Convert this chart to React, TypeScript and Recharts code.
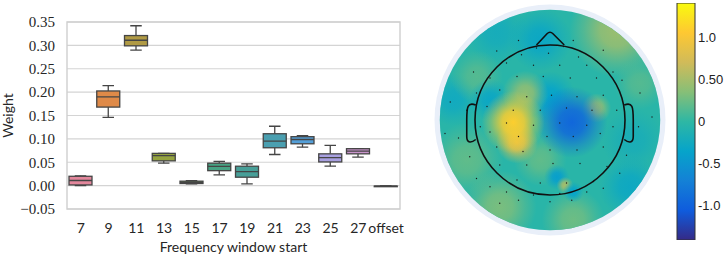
import React from "react";
import {
  ComposedChart, Bar, XAxis, YAxis, CartesianGrid, ReferenceArea,
  ScatterChart, Scatter,
} from "recharts";

// ---- box plot data (weight per frequency window) ----
const windows = ["7", "9", "11", "13", "15", "17", "19", "21", "23", "25", "27", "offset"];
const whiskerLow = [0.0, 0.146, 0.290, 0.048, 0.0036, 0.023, 0.0036, 0.0666, 0.0823, 0.0415, 0.061, -0.0017];
const quartile1 = [0.0015, 0.168, 0.299, 0.053, 0.0045, 0.032, 0.018, 0.081, 0.0895, 0.0507, 0.068, -0.0014];
const medians = [0.011, 0.190, 0.311, 0.064, 0.007, 0.041, 0.030, 0.095, 0.0987, 0.060, 0.0737, -0.0012];
const quartile3 = [0.020, 0.2025, 0.321, 0.069, 0.0095, 0.048, 0.0415, 0.111, 0.1047, 0.068, 0.079, -0.001];
const whiskerHigh = [0.021, 0.214, 0.342, 0.069, 0.0107, 0.052, 0.0466, 0.127, 0.107, 0.086, 0.079, -0.0007];
const boxColors = ["#e3879c", "#df8a48", "#b09a44", "#95a340", "#5aa244", "#47a283", "#489f98", "#4a9fb0", "#549fd8", "#a8a0e0", "#c994cc", "#e07fbd"];
const yTicks = [-0.05, 0, 0.05, 0.1, 0.15, 0.2, 0.25, 0.3, 0.35];

// ---- topomap data (head units, head radius = 1) ----
const blobX = [0.89, -0.71, -0.13, -1.29, -1.11, -0.67, 0.31, 1.07, 1.11, 1.2, -0.98, -0.13, 0.0, -0.8, -0.33, 0.62, 0.29, -0.44, -0.49, 0.09, 0.2, 0.31];
const blobY = [1.2, 1.16, 1.07, 0.27, -0.53, -1.16, -1.33, -0.89, -0.27, 0.49, 0.58, -0.53, 0.3, 0.27, 0.35, 0.16, -0.03, -0.3, -0.03, -0.76, -0.87, -0.96];
const blobValue = [0.45, -0.2, -0.3, -0.25, 0.2, 0.3, 0.25, -0.28, -0.18, 0.15, 0.15, 0.2, -0.35, -0.3, 0.4, 0.45, -0.95, 0.85, 1.1, -0.4, 0.5, -0.35];
const blobRadius = [0.45, 0.3, 0.3, 0.25, 0.35, 0.35, 0.3, 0.3, 0.3, 0.25, 0.25, 0.25, 0.25, 0.2, 0.22, 0.14, 0.34, 0.2, 0.3, 0.12, 0.08, 0.1];

const electrodeX = [-0.42, 0.31, -0.71, -0.18, 0.18, 0.71, -0.38, -0.02, 0.38, -1.02, -0.58, -0.22, 0.13, 0.49, 0.84, -0.8, -0.44, -0.09, 0.27, 0.62, 0.96, -1.33, -0.98, -0.67, -0.31, 0.02, 0.36, 0.71, 1.2, -1.11, -0.84, -0.49, -0.13, 0.22, 0.56, 0.89, -1.4, -0.93, -0.58, -0.22, 0.13, 0.49, 0.84, 1.36, -1.22, -0.8, -0.42, -0.04, 0.31, 0.67, 1.18, -1.07, -0.71, -0.36, 0.0, 0.36, 0.71, 1.02, -0.98, -0.67, -0.31, 0.04, 0.4, 0.76, 0.93, -0.8, -0.44, -0.13, 0.22, 0.58, -0.58, -0.22, 0.13, 0.49, 0.71, -0.42, 0.0, 0.29, -0.67];
const electrodeY = [1.06, 1.06, 0.92, 0.96, 0.98, 0.93, 0.87, 0.89, 0.84, 0.64, 0.76, 0.73, 0.73, 0.73, 0.64, 0.56, 0.58, 0.58, 0.56, 0.56, 0.53, 0.24, 0.36, 0.4, 0.31, 0.33, 0.31, 0.33, 0.36, 0.13, 0.18, 0.13, 0.13, 0.16, 0.13, 0.13, -0.18, -0.09, -0.04, -0.07, -0.04, -0.07, -0.09, 0.04, -0.24, -0.16, -0.22, -0.22, -0.22, -0.18, -0.09, -0.49, -0.36, -0.42, -0.4, -0.4, -0.36, -0.47, -0.78, -0.6, -0.6, -0.58, -0.58, -0.62, -0.71, -0.89, -0.8, -0.84, -0.84, -0.82, -0.96, -1.0, -0.98, -0.96, -0.91, -1.07, -1.09, -1.07, -1.11];

const cbTicks = [1.0, 0.5, 0, -0.5, -1.0];
const cbTickLabels = ["1.0", "0.50", "0", "-0.5", "-1.0"];

// parula colormap anchors
const PARULA = ["#352a87", "#0f5cdd", "#1481d6", "#06a4ca", "#2eb7a4", "#87bf77", "#d1bb59", "#fec832", "#f9fb0e"];
const CB_MIN = -1.41;
const CB_MAX = 1.41;

const LINE = "#454545";
const MAP_SIZE = 240;
const MAP_EXTENT = 1.6;
const K = MAP_SIZE / (2 * MAP_EXTENT);

function hexToRgb(h: string) {
  return [1, 3, 5].map((i) => parseInt(h.slice(i, i + 2), 16));
}

function parula(v: number) {
  const t = Math.max(0, Math.min(1, (v - CB_MIN) / (CB_MAX - CB_MIN))) * (PARULA.length - 1);
  const i = Math.min(Math.floor(t), PARULA.length - 2);
  const f = t - i;
  const a = hexToRgb(PARULA[i]);
  const b = hexToRgb(PARULA[i + 1]);
  const c = a.map((av, k) => Math.round(av + (b[k] - av) * f));
  return `rgb(${c[0]},${c[1]},${c[2]})`;
}

const rows = windows.map((name, i) => ({
  name,
  range: [whiskerLow[i], whiskerHigh[i]],
  lo: whiskerLow[i], q1: quartile1[i], med: medians[i], q3: quartile3[i], hi: whiskerHigh[i],
  color: boxColors[i],
}));

const blobs = blobX.map((x, i) => ({ x, y: blobY[i], v: blobValue[i], r: blobRadius[i], id: i }));
const electrodes = electrodeX.map((x, i) => ({ x, y: electrodeY[i] }));
const centre = [{ x: 0, y: 0 }];
const colorbar = [{ name: "cb", range: [CB_MIN, CB_MAX] }];

function BoxShape(props: any) {
  const { x, y, width, height, payload } = props;
  const top = Math.min(y, y + height);
  const h = Math.abs(height);
  const { lo, q1, med, q3, hi, color } = payload;
  const ppu = h / (hi - lo);
  const py = (v: number) => top + (hi - v) * ppu;
  const cx = x + width / 2;
  const cap = width / 4;
  return (
    <g stroke={LINE} strokeWidth={1.3} fill="none">
      <line x1={cx} x2={cx} y1={py(hi)} y2={py(q3)} />
      <line x1={cx} x2={cx} y1={py(q1)} y2={py(lo)} />
      <line x1={cx - cap} x2={cx + cap} y1={py(hi)} y2={py(hi)} />
      <line x1={cx - cap} x2={cx + cap} y1={py(lo)} y2={py(lo)} />
      <rect x={x} y={py(q3)} width={width} height={Math.max(py(q1) - py(q3), 0.6)} fill={color} />
      <line x1={x} x2={x + width} y1={py(med)} y2={py(med)} />
    </g>
  );
}

function ScalpShape(props: any) {
  const { cx, cy } = props;
  return (
    <g>
      <defs>
        <clipPath id="scalpClip">
          <circle cx={cx} cy={cy} r={1.47 * K} />
        </clipPath>
      </defs>
      <circle cx={cx} cy={cy} r={1.54 * K} fill="#e9eff9" />
      <circle cx={cx} cy={cy} r={1.47 * K} fill={parula(-0.04)} />
    </g>
  );
}

function BlobShape(props: any) {
  const { cx, cy, payload } = props;
  const id = `blob${payload.id}`;
  const col = parula(payload.v);
  return (
    <g clipPath="url(#scalpClip)">
      <defs>
        <radialGradient id={id}>
          <stop offset="0%" stopColor={col} stopOpacity={1} />
          <stop offset="35%" stopColor={col} stopOpacity={0.85} />
          <stop offset="70%" stopColor={col} stopOpacity={0.35} />
          <stop offset="100%" stopColor={col} stopOpacity={0} />
        </radialGradient>
      </defs>
      <circle cx={cx} cy={cy} r={payload.r * K * 1.4} fill={`url(#${id})`} />
    </g>
  );
}

function ElectrodeShape(props: any) {
  return <circle cx={props.cx} cy={props.cy} r={0.7} fill="#1a1a1a" />;
}

function HeadShape(props: any) {
  const { cx, cy } = props;
  const p = (u: number, v: number) => `${cx + u * K},${cy - v * K}`;
  return (
    <g stroke="#111" strokeWidth={1.6} fill="none">
      <circle cx={cx} cy={cy} r={K} />
      <path d={`M${p(-0.18, 1.0)} L${p(-0.04, 1.15)} Q${p(0, 1.19)} ${p(0.04, 1.15)} L${p(0.19, 1.0)}`} />
      <path d={`M${p(-0.99, 0.2)} C${p(-1.1, 0.24)} ${p(-1.11, 0.18)} ${p(-1.11, 0.0)} L${p(-1.11, -0.22)} C${p(-1.11, -0.32)} ${p(-1.04, -0.3)} ${p(-0.99, -0.26)}`} />
      <path d={`M${p(0.99, 0.2)} C${p(1.1, 0.24)} ${p(1.11, 0.18)} ${p(1.11, 0.0)} L${p(1.11, -0.22)} C${p(1.11, -0.32)} ${p(1.04, -0.3)} ${p(0.99, -0.26)}`} />
    </g>
  );
}

const fmtWeight = (v: number) => (v < 0 ? "\u2212" : "") + Math.abs(v).toFixed(2);

export default function App() {
  return (
    <div style={{ position: "relative", width: 725, height: 259, background: "#fff", overflow: "hidden" }}>
      <style>{"body{margin:0}"}</style>
      <div style={{ position: "absolute", left: 0, top: 0 }}>
        <ComposedChart width={410} height={259} data={rows} margin={{ top: 22, right: 10, bottom: 0, left: 0 }}>
          <CartesianGrid vertical={false} stroke="#d4d4d4" strokeWidth={1.2} />
          <ReferenceArea y1={-0.05} y2={0.35} fill="none" stroke="#cfcfcf" strokeWidth={1.4} ifOverflow="visible" />
          <XAxis
            dataKey="name"
            interval={0}
            axisLine={false}
            tickLine={false}
            tickSize={0}
            tickMargin={14}
            height={50}
            tick={{ fontFamily: "Lato", fontSize: 14, fill: "#262626" }}
            label={{ value: "Frequency window start", position: "insideBottom", offset: 7, style: { fontFamily: "Lato", fontSize: 14, fill: "#262626" } }}
          />
          <YAxis
            type="number"
            domain={[-0.05, 0.35]}
            ticks={yTicks}
            allowDataOverflow
            width={67}
            axisLine={false}
            tickLine={false}
            tickSize={0}
            tickMargin={12}
            tickFormatter={fmtWeight}
            tick={{ fontFamily: "Liberation Serif", fontSize: 15, fill: "#262626" }}
            label={{ value: "Weight", angle: -90, position: "insideLeft", offset: 8, style: { textAnchor: "middle", fontFamily: "Lato", fontSize: 14, fill: "#262626" } }}
          />
          <Bar dataKey="range" barSize={23} shape={<BoxShape />} isAnimationActive={false} />
        </ComposedChart>
      </div>

      <div style={{ position: "absolute", left: 430, top: 0 }}>
        <ScatterChart width={MAP_SIZE} height={MAP_SIZE} margin={{ top: 0, right: 0, bottom: 0, left: 0 }}>
          <XAxis type="number" dataKey="x" domain={[-MAP_EXTENT, MAP_EXTENT]} hide />
          <YAxis type="number" dataKey="y" domain={[-MAP_EXTENT, MAP_EXTENT]} hide />
          <Scatter data={centre} shape={<ScalpShape />} isAnimationActive={false} />
          <Scatter data={blobs} shape={<BlobShape />} isAnimationActive={false} />
          <Scatter data={electrodes} shape={<ElectrodeShape />} isAnimationActive={false} />
          <Scatter data={centre} shape={<HeadShape />} isAnimationActive={false} />
        </ScatterChart>
      </div>

      <div style={{ position: "absolute", left: 670, top: 0 }}>
        <ComposedChart width={55} height={259} data={colorbar} barCategoryGap={0} margin={{ top: 3, right: 0, bottom: 19, left: 7 }}>
          <defs>
            <linearGradient id="parulaGrad" x1="0" y1="1" x2="0" y2="0">
              {PARULA.map((c, i) => (
                <stop key={i} offset={`${(i / (PARULA.length - 1)) * 100}%`} stopColor={c} />
              ))}
            </linearGradient>
          </defs>
          <XAxis dataKey="name" hide />
          <YAxis
            type="number"
            orientation="right"
            domain={[CB_MIN, CB_MAX]}
            ticks={cbTicks}
            allowDataOverflow
            width={30}
            axisLine={false}
            tickLine={false}
            tickSize={0}
            tickMargin={3}
            tickFormatter={(v: number) => cbTickLabels[cbTicks.indexOf(v)]}
            tick={{ fontFamily: "Liberation Sans", fontSize: 13, fill: "#222", textAnchor: "start" }}
          />
          <Bar dataKey="range" fill="url(#parulaGrad)" stroke="#333" strokeWidth={1} isAnimationActive={false} />
        </ComposedChart>
      </div>
    </div>
  );
}
